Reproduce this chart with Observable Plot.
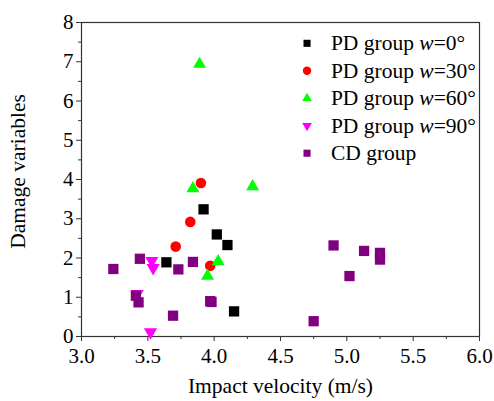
<!DOCTYPE html>
<html>
<head>
<meta charset="utf-8">
<script src="https://cdn.jsdelivr.net/npm/d3@7"></script>
<script src="https://cdn.jsdelivr.net/npm/@observablehq/plot@0.6"></script>
<style>
  html, body { margin: 0; padding: 0; background: #fff; }
  #chart { width: 494px; height: 401px; }
  #chart svg text {
    font-family: "Liberation Serif", "Times New Roman", serif !important;
    font-size: 21px !important;
    font-variant: normal !important;
    fill: #000;
  }
  #chart svg g.legend-text text,
  #chart svg g.ylabel text,
  #chart svg g.xlabel text { font-size: 21.5px !important; }
</style>
</head>
<body>
<div id="chart"></div>
<script>
// ---- data ----
const pd0V  = [3.64, 3.92, 4.02, 4.10, 4.15];
const pd0D  = [1.89, 3.24, 2.60, 2.33, 0.64];
const pd30V = [3.71, 3.82, 3.90, 3.97];
const pd30D = [2.29, 2.92, 3.91, 1.80];
const pd60V = [3.89, 3.84, 4.29, 4.03, 3.95];
const pd60D = [6.94, 3.77, 3.82, 1.91, 1.54];
const pd90V = [3.53, 3.54, 3.42, 3.52];
const pd90D = [1.93, 1.75, 1.09, 0.11];
const cdV   = [3.24, 3.44, 3.41, 3.43, 3.73, 3.84, 3.69, 3.97, 3.98, 4.75, 4.90, 5.02, 5.13, 5.25, 5.25];
const cdD   = [1.72, 1.98, 1.04, 0.87, 1.71, 1.90, 0.53, 0.90, 0.88, 0.39, 2.32, 1.54, 2.18, 2.13, 1.96];

const seriesNames = ["PD group w=0°", "PD group w=30°", "PD group w=60°", "PD group w=90°", "CD group"];
const xTicks = [3.0, 3.5, 4.0, 4.5, 5.0, 5.5, 6.0];
const yTicks = [0, 1, 2, 3, 4, 5, 6, 7, 8];
const xLabel = "Impact velocity (m/s)";
const yLabel = "Damage variables";

// ---- helpers ----
const zip = (xs, ys) => xs.map((x, i) => ({x, y: ys[i]}));
const triDown = {
  draw(ctx, size) {
    const y = Math.sqrt(size / (3 * Math.sqrt(3)));
    ctx.moveTo(0, 2 * y);
    ctx.lineTo(-Math.sqrt(3) * y, -y);
    ctx.lineTo(Math.sqrt(3) * y, -y);
    ctx.closePath();
  }
};
const styles = [
  {symbol: "square",   fill: "#000000", r: 5.8, lr: 4.0},
  {symbol: "circle",   fill: "#ff0000", r: 5.3, lr: 4.2},
  {symbol: "triangle", fill: "#00ff00", r: 4.8, lr: 3.6},
  {symbol: triDown,    fill: "#ff00ff", r: 4.9, lr: 3.6},
  {symbol: "square",   fill: "#800080", r: 5.8, lr: 4.0}
];
const series = [zip(pd0V, pd0D), zip(pd30V, pd30D), zip(pd60V, pd60D), zip(pd90V, pd90D), zip(cdV, cdD)];

const minorX = d3.range(3.0, 6.001, 0.25).filter(v => Math.abs(v * 2 - Math.round(v * 2)) > 1e-6);
const minorY = d3.range(0.5, 8, 1);

// legend rows placed in data space inside the frame (top right)
const legendRows = seriesNames.map((name, i) => ({name, i, x: 4.70, tx: 4.88, y: 7.47 - i * 0.70}));

const marks = [
  Plot.frame({stroke: "#333", strokeWidth: 1.2}),
  Plot.axisX({ticks: minorX, tickSize: 3, tickFormat: () => "", label: null, stroke: "#333"}),
  Plot.axisY({ticks: minorY, tickSize: 3, tickFormat: () => "", label: null, stroke: "#333"}),
  Plot.axisX({ticks: xTicks, tickSize: 5, tickPadding: 7, tickFormat: d3.format(".1f"),
              label: null, stroke: "#333"}),
  Plot.axisY({ticks: yTicks, tickSize: 5, tickPadding: 3, tickFormat: d3.format("d"),
              label: null, stroke: "#333"}),
  Plot.text([xLabel], {frameAnchor: "bottom", text: d => d, dy: 50, lineAnchor: "middle",
                       textAnchor: "middle", className: "xlabel"}),
  Plot.text([yLabel], {frameAnchor: "left", text: d => d, rotate: -90, dx: -63, dy: -8,
                       textAnchor: "middle", className: "ylabel"}),
  ...series.map((data, i) => Plot.dot(data, {x: "x", y: "y", symbol: styles[i].symbol, r: styles[i].r,
                                             fill: styles[i].fill, stroke: "none"})),
  ...legendRows.map(d => Plot.dot([d], {x: "x", y: "y", symbol: styles[d.i].symbol, r: styles[d.i].lr,
                                         fill: styles[d.i].fill, stroke: "none"})),
  Plot.text(legendRows, {x: "tx", y: "y", text: "name", textAnchor: "start", fill: "#000",
                         className: "legend-text"})
];

const plot = Plot.plot({
  width: 494,
  height: 401,
  marginLeft: 81,
  marginRight: 15,
  marginTop: 22,
  marginBottom: 65,
  x: {domain: [3, 6]},
  y: {domain: [0, 8]},
  style: {fontFamily: "'Liberation Serif', 'Times New Roman', serif", fontSize: "21px", color: "#000", background: "#fff"},
  marks
});

// italicise the "w" in legend labels (text stays real text)
plot.querySelectorAll("text").forEach(t => {
  const target = t.querySelector("tspan") || t;
  const s = target.textContent;
  const k = s.indexOf("w=");
  if (k >= 0) {
    while (target.firstChild) target.removeChild(target.firstChild);
    const ns = "http://www.w3.org/2000/svg";
    target.appendChild(document.createTextNode(s.slice(0, k)));
    const it = document.createElementNS(ns, "tspan");
    it.setAttribute("font-style", "italic");
    it.textContent = "w";
    target.appendChild(it);
    target.appendChild(document.createTextNode(s.slice(k + 1)));
  }
});

document.getElementById("chart").appendChild(plot);
</script>
</body>
</html>
